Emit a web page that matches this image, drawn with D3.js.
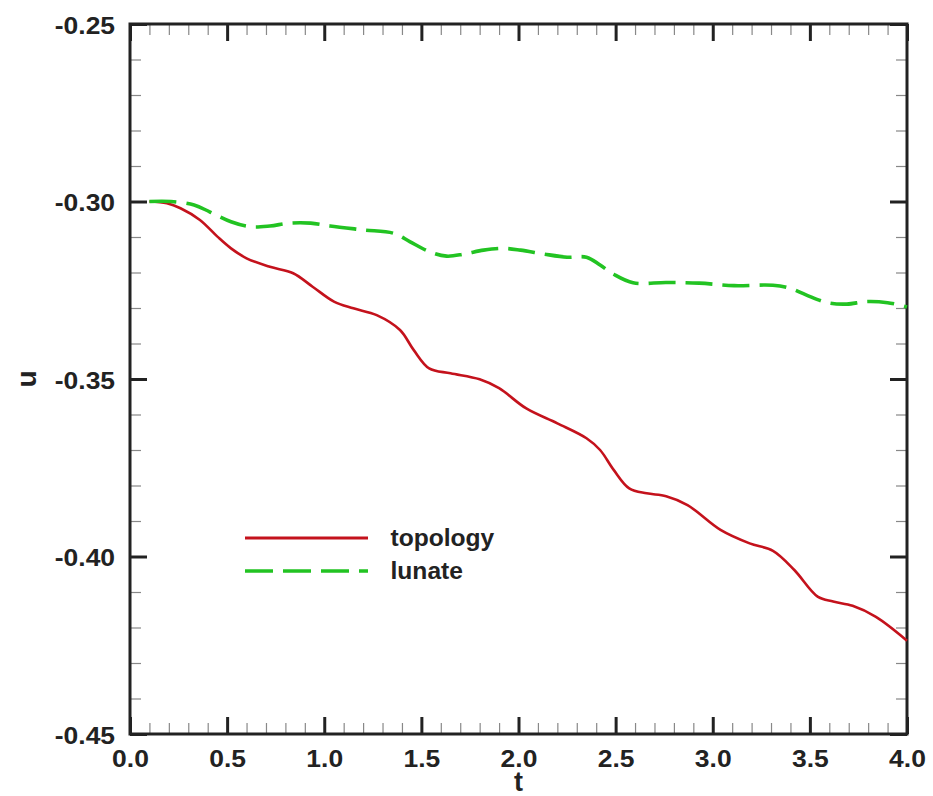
<!DOCTYPE html>
<html>
<head>
<meta charset="utf-8">
<script src="https://cdn.jsdelivr.net/npm/d3@7"></script>
<style>
  body { margin: 0; background: #fff; }
  svg text { font-family: "Liberation Sans", Arial, sans-serif; font-weight: bold; fill: #222; }
</style>
</head>
<body>
<svg id="chart" width="933" height="796"></svg>
<script>
// topology (red, solid)
const topoT = [0.1, 0.19, 0.26, 0.36, 0.45, 0.52, 0.60, 0.72, 0.84, 0.94, 1.05, 1.15, 1.27, 1.39, 1.46, 1.54,
    1.65, 1.80, 1.90, 2.04, 2.20, 2.35, 2.42, 2.49, 2.57, 2.66, 2.76, 2.87, 3.04, 3.19, 3.31, 3.42, 3.54, 3.62,
    3.72, 3.84, 4.0];
const topoU = [-0.3000, -0.3005, -0.3019, -0.3052, -0.3099, -0.3132, -0.3160, -0.3184, -0.3202, -0.3240,
    -0.3282, -0.3301, -0.3320, -0.3362, -0.3418, -0.3470, -0.3484, -0.3501, -0.3526, -0.3583, -0.3625,
    -0.3667, -0.3700, -0.3756, -0.3808, -0.3822, -0.3830, -0.3855, -0.3925, -0.3963, -0.3984, -0.4038,
    -0.4113, -0.4127, -0.4139, -0.4170, -0.4237];

// lunate (green, dashed)
const lunT = [0.1, 0.21, 0.33, 0.41, 0.52, 0.62, 0.72, 0.82, 0.93, 1.03, 1.20, 1.36, 1.44, 1.54, 1.63, 1.72,
    1.82, 1.92, 2.01, 2.13, 2.25, 2.35, 2.42, 2.49, 2.59, 2.76, 2.93, 3.11, 3.31, 3.40, 3.48, 3.59, 3.69,
    3.79, 3.90, 4.0];
const lunU = [-0.3000, -0.3000, -0.3010, -0.3029, -0.3057, -0.3071, -0.3069, -0.3061, -0.3061, -0.3069,
    -0.3080, -0.3090, -0.3113, -0.3141, -0.3154, -0.3148, -0.3137, -0.3132, -0.3137, -0.3148, -0.3157,
    -0.3157, -0.3179, -0.3205, -0.3229, -0.3228, -0.3230, -0.3237, -0.3236, -0.3245, -0.3263, -0.3285,
    -0.3289, -0.3282, -0.3285, -0.3297];

const xMajor = [0, 0.5, 1, 1.5, 2, 2.5, 3, 3.5, 4];
const yMajor = [-0.45, -0.40, -0.35, -0.30, -0.25];
const seriesNames = ["topology", "lunate"];

const margin = { top: 24, right: 26, bottom: 62, left: 130 };
const width = 933 - margin.left - margin.right;
const height = 796 - margin.top - margin.bottom;

const svg = d3.select("#chart");
const g = svg.append("g").attr("transform", `translate(${margin.left},${margin.top})`);

const x = d3.scaleLinear().domain([0, 4]).range([0, width]);
const y = d3.scaleLinear().domain([-0.45, -0.25]).range([height, 0]);

const xMinor = d3.range(0, 40).map(i => i / 10).filter(v => Math.round(v * 10) % 5 !== 0);
const yMinor = d3.range(-45, -25).map(i => i / 100).filter(v => Math.round(v * 100) % 5 !== 0);

// plain hyphen instead of the unicode minus d3.format gives
const fmt = f => d => d3.format(f)(d).replace("\u2212", "-");

// minor ticks (all four sides)
function minor(axis) {
    return axis.tickSize(-11).tickFormat("");
}
const minorStyle = sel => {
    sel.select(".domain").remove();
    sel.selectAll("line").attr("stroke", "#888").attr("stroke-width", 1.2);
};
g.append("g").attr("transform", `translate(0,${height})`)
    .call(minor(d3.axisBottom(x).tickValues(xMinor))).call(minorStyle);
g.append("g").call(minor(d3.axisTop(x).tickValues(xMinor))).call(minorStyle);
g.append("g").call(minor(d3.axisLeft(y).tickValues(yMinor))).call(minorStyle);
g.append("g").attr("transform", `translate(${width},0)`)
    .call(minor(d3.axisRight(y).tickValues(yMinor))).call(minorStyle);

// major ticks
const majorStyle = sel => {
    sel.select(".domain").remove();
    sel.selectAll("line").attr("stroke", "#222").attr("stroke-width", 3);
};
g.append("g").attr("transform", `translate(0,${height})`)
    .call(d3.axisBottom(x).tickValues(xMajor).tickSize(-17).tickPadding(0).tickFormat(fmt(".1f")))
    .call(majorStyle)
    .call(sel => sel.selectAll("text")
        .attr("y", 33).attr("dy", 0)
        .attr("transform", "scale(1.15,1)")
        .style("font-size", "23px").style("fill", "#222"));
g.append("g").call(d3.axisTop(x).tickValues(xMajor).tickSize(-17).tickFormat("")).call(majorStyle);
g.append("g")
    .call(d3.axisLeft(y).tickValues(yMajor).tickSize(-17).tickPadding(0).tickFormat(fmt(".2f")))
    .call(majorStyle)
    .call(sel => sel.selectAll("text")
        .attr("x", -13).attr("dy", "0.4em")
        .attr("transform", "scale(1.15,1)")
        .style("font-size", "23px").style("fill", "#222"));
g.append("g").attr("transform", `translate(${width},0)`)
    .call(d3.axisRight(y).tickValues(yMajor).tickSize(-17).tickFormat("")).call(majorStyle);

// frame
g.append("rect")
    .attr("width", width).attr("height", height)
    .attr("fill", "none").attr("stroke", "#222").attr("stroke-width", 3);

// curves
const line = d3.line().x(d => x(d[0])).y(d => y(d[1])).curve(d3.curveCatmullRom);
const topo = d3.zip(topoT, topoU);
const lun = d3.zip(lunT, lunU);

g.append("path").datum(topo)
    .attr("d", line).attr("fill", "none")
    .attr("stroke", "#c4121c").attr("stroke-width", 2.6);
g.append("path").datum(lun)
    .attr("d", line).attr("fill", "none")
    .attr("stroke", "#22c322").attr("stroke-width", 3.6)
    .attr("stroke-dasharray", "27,10");

// axis titles
g.append("text")
    .attr("x", x(2)).attr("y", height + 57)
    .attr("text-anchor", "middle")
    .style("font-size", "27px")
    .text("t");
g.append("text")
    .attr("transform", `translate(${-margin.left + 36},${y(-0.35)}) rotate(-90)`)
    .attr("text-anchor", "middle")
    .style("font-size", "28px")
    .text("u");

// legend
const legend = svg.append("g").attr("transform", "translate(245,538)");
const legendStyles = [
    { color: "#c4121c", width: 3, dash: null },
    { color: "#22c322", width: 3.6, dash: "28,10" }
];
seriesNames.forEach((name, i) => {
    const row = legend.append("g").attr("transform", `translate(0,${i * 33})`);
    row.append("line")
        .attr("x1", 0).attr("x2", 123)
        .attr("stroke", legendStyles[i].color)
        .attr("stroke-width", legendStyles[i].width)
        .attr("stroke-dasharray", legendStyles[i].dash);
    row.append("text")
        .attr("x", 136).attr("y", 8)
        .attr("transform", "scale(1.07,1)")
        .style("font-size", "23px")
        .text(name);
});
</script>
</body>
</html>
